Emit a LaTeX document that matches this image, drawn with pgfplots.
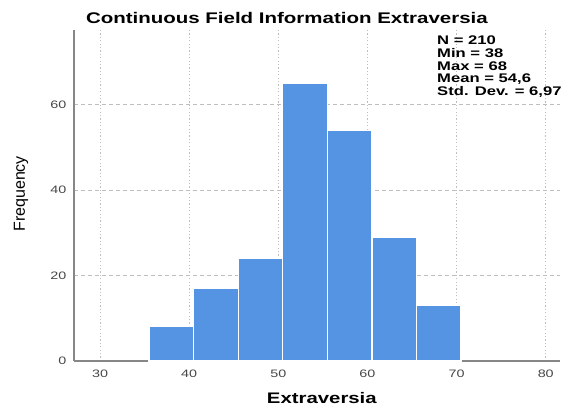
\documentclass[border=0pt]{standalone}
\usepackage{fontspec}
\setmainfont{Liberation Sans}
\newfontfamily\stretchfont[FakeStretch=1.33]{Liberation Sans}
\usepackage{pgfplots}
\pgfplotsset{compat=1.18}
\definecolor{barblue}{RGB}{84,148,226}
\definecolor{gridgray}{RGB}{190,190,190}
\definecolor{axisgray}{RGB}{135,135,135}
\definecolor{ticktext}{RGB}{70,70,70}
\begin{document}
\begin{tikzpicture}
\begin{axis}[
  scale only axis,
  width=486pt, height=331pt,
  xmin=27.08, xmax=81.6,
  ymin=0, ymax=77.5,
  axis x line*=bottom, axis y line*=left,
  axis line style={axisgray, line width=1.3pt, -},
  xtick={30,40,50,60,70,80},
  ytick={0,20,40,60},
  major tick length=0pt,
  xmajorgrids, ymajorgrids,
  x grid style={gridgray, line width=0.9pt, dash pattern=on 1.2pt off 2.2pt},
  y grid style={gridgray, line width=0.9pt, dash pattern=on 4pt off 3pt},
  /pgf/number format/assume math mode=true,
  tick label style={font=\stretchfont\fontsize{10.8}{12}\selectfont, text=ticktext},
  xticklabel style={yshift=-5pt},
  yticklabel style={xshift=-4pt},
  clip=false,
]
\addplot[ybar interval, fill=barblue, draw=white, line width=1.2pt]
  coordinates {(35.5,8) (40.5,17) (45.5,24) (50.5,65) (55.5,54) (60.5,29) (65.5,13) (70.5,13)};
\node[anchor=center, font=\stretchfont\bfseries\fontsize{15.4}{17}\selectfont] at (axis description cs:0.438,1.036) {Continuous Field Information Extraversia};
\node[anchor=center, font=\stretchfont\bfseries\fontsize{15.3}{17}\selectfont] at (axis description cs:0.51,-0.112) {Extraversia};
\node[anchor=center, rotate=90, font=\fontsize{16}{18}\selectfont] at (axis description cs:-0.109,0.505) {Frequency};
\node[anchor=north west, inner sep=0pt, align=left, font=\stretchfont\bfseries\fontsize{12.5}{12.6}\selectfont] at (axis description cs:0.747,0.982) {N = 210\\Min = 38\\Max = 68\\Mean = 54,6\\Std. Dev. = 6,97};
\end{axis}
\pgfresetboundingbox
\path[use as bounding box] (-74pt,-49pt) rectangle (488pt,361pt);
\end{tikzpicture}
\end{document}
